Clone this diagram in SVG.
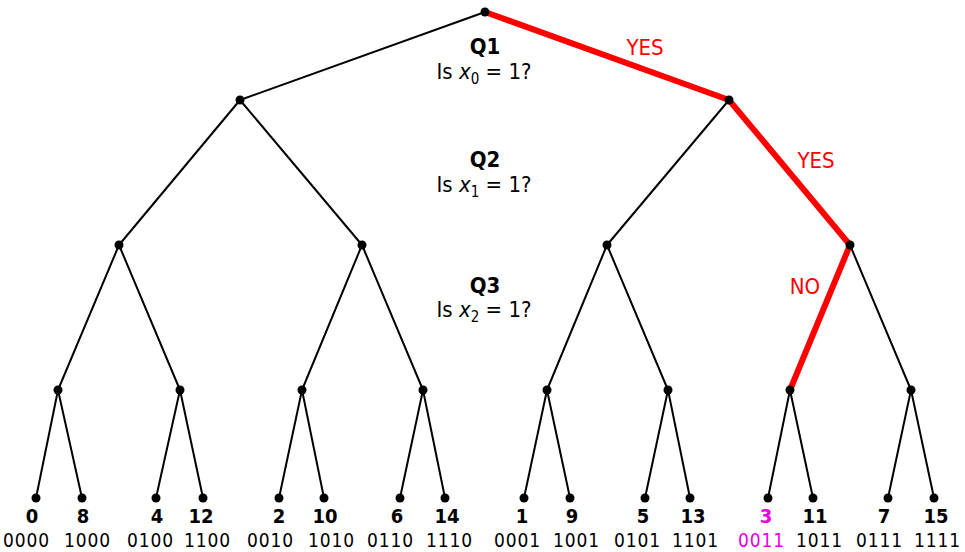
<svg xmlns="http://www.w3.org/2000/svg" width="965" height="552" viewBox="0 0 965 552">
<style>
.e{stroke:#000;stroke-width:2;fill:none}
.r{stroke:#ff0000;stroke-width:6;fill:none;stroke-linecap:round}
.d{fill:#000}
text{font-family:"DejaVu Sans Condensed","DejaVu Sans",sans-serif;text-anchor:middle;fill:#000}
.q{font-size:22px;font-weight:bold}
.t{font-size:22px}
.i{font-style:italic}
.s{font-size:15px}
.lab{font-size:22px;fill:#ff0000}
.n{font-size:20px;font-weight:bold}
.b{font-size:19px}
.m{fill:#e600e6}
</style>
<g id="edges">
<path class="e" d="M485,12L240,100M240,100L119,245M240,100L362,245M729,100L607,245M850,245L911,390"/>
<path class="e" d="M119,245L58,390M119,245L180,390M362,245L302,390M362,245L423,390M607,245L547,390M607,245L668,390"/>
<path class="e" d="M58,390L36,498M58,390L82,498M180,390L156,498M180,390L203,498M302,390L279,498M302,390L324,498M423,390L400,498M423,390L445,498"/>
<path class="e" d="M547,390L524,498M547,390L570,498M668,390L645,498M668,390L690,498M790,390L768,498M790,390L813,498M911,390L888,498M911,390L934,498"/>
<path class="r" d="M485,12L729,100L850,245L790,390"/>
</g>
<g id="nodes">
<g id="n-root"><circle class="d" cx="485" cy="12" r="4.5"/></g>
<g id="n-0"><circle class="d" cx="240" cy="100" r="4.5"/></g>
<g id="n-1"><circle class="d" cx="729" cy="100" r="4.5"/></g>
<g id="n-00"><circle class="d" cx="119" cy="245" r="4.5"/></g>
<g id="n-01"><circle class="d" cx="362" cy="245" r="4.5"/></g>
<g id="n-10"><circle class="d" cx="607" cy="245" r="4.5"/></g>
<g id="n-11"><circle class="d" cx="850" cy="245" r="4.5"/></g>
<g id="n-000"><circle class="d" cx="58" cy="390" r="4.5"/></g>
<g id="n-001"><circle class="d" cx="180" cy="390" r="4.5"/></g>
<g id="n-010"><circle class="d" cx="302" cy="390" r="4.5"/></g>
<g id="n-011"><circle class="d" cx="423" cy="390" r="4.5"/></g>
<g id="n-100"><circle class="d" cx="547" cy="390" r="4.5"/></g>
<g id="n-101"><circle class="d" cx="668" cy="390" r="4.5"/></g>
<g id="n-110"><circle class="d" cx="790" cy="390" r="4.5"/></g>
<g id="n-111"><circle class="d" cx="911" cy="390" r="4.5"/></g>
<g id="leaf-0"><circle class="d" cx="36" cy="498" r="4.5"/><text class="n" x="32" y="523">0</text><text class="b" x="26" y="547" textLength="46">0000</text></g>
<g id="leaf-8"><circle class="d" cx="82" cy="498" r="4.5"/><text class="n" x="83" y="523">8</text><text class="b" x="87" y="547" textLength="46">1000</text></g>
<g id="leaf-4"><circle class="d" cx="156" cy="498" r="4.5"/><text class="n" x="157" y="523">4</text><text class="b" x="150" y="547" textLength="46">0100</text></g>
<g id="leaf-12"><circle class="d" cx="203" cy="498" r="4.5"/><text class="n" x="201" y="523">12</text><text class="b" x="207" y="547" textLength="46">1100</text></g>
<g id="leaf-2"><circle class="d" cx="279" cy="498" r="4.5"/><text class="n" x="279" y="523">2</text><text class="b" x="270" y="547" textLength="46">0010</text></g>
<g id="leaf-10"><circle class="d" cx="324" cy="498" r="4.5"/><text class="n" x="325" y="523">10</text><text class="b" x="331" y="547" textLength="46">1010</text></g>
<g id="leaf-6"><circle class="d" cx="400" cy="498" r="4.5"/><text class="n" x="397" y="523">6</text><text class="b" x="390" y="547" textLength="46">0110</text></g>
<g id="leaf-14"><circle class="d" cx="445" cy="498" r="4.5"/><text class="n" x="447" y="523">14</text><text class="b" x="449" y="547" textLength="46">1110</text></g>
<g id="leaf-1"><circle class="d" cx="524" cy="498" r="4.5"/><text class="n" x="522" y="523">1</text><text class="b" x="517" y="547" textLength="46">0001</text></g>
<g id="leaf-9"><circle class="d" cx="570" cy="498" r="4.5"/><text class="n" x="572" y="523">9</text><text class="b" x="576" y="547" textLength="46">1001</text></g>
<g id="leaf-5"><circle class="d" cx="645" cy="498" r="4.5"/><text class="n" x="643" y="523">5</text><text class="b" x="637" y="547" textLength="46">0101</text></g>
<g id="leaf-13"><circle class="d" cx="690" cy="498" r="4.5"/><text class="n" x="693" y="523">13</text><text class="b" x="695" y="547" textLength="46">1101</text></g>
<g id="leaf-3"><circle class="d" cx="768" cy="498" r="4.5"/><text class="n m" x="766" y="523">3</text><text class="b m" x="761" y="547" textLength="46">0011</text></g>
<g id="leaf-11"><circle class="d" cx="813" cy="498" r="4.5"/><text class="n" x="815" y="523">11</text><text class="b" x="819" y="547" textLength="46">1011</text></g>
<g id="leaf-7"><circle class="d" cx="888" cy="498" r="4.5"/><text class="n" x="884" y="523">7</text><text class="b" x="879" y="547" textLength="46">0111</text></g>
<g id="leaf-15"><circle class="d" cx="934" cy="498" r="4.5"/><text class="n" x="936" y="523">15</text><text class="b" x="937" y="547" textLength="46">1111</text></g>
</g>
<g id="questions">
<text class="q" x="485" y="54">Q1</text>
<text class="t" x="484" y="79">Is <tspan class="i">x</tspan><tspan class="s" dy="5">0</tspan><tspan dy="-5"> = 1?</tspan></text>
<text class="q" x="485" y="167">Q2</text>
<text class="t" x="484" y="192">Is <tspan class="i">x</tspan><tspan class="s" dy="5">1</tspan><tspan dy="-5"> = 1?</tspan></text>
<text class="q" x="485" y="293">Q3</text>
<text class="t" x="484" y="317">Is <tspan class="i">x</tspan><tspan class="s" dy="5">2</tspan><tspan dy="-5"> = 1?</tspan></text>
</g>
<g id="labels">
<text class="lab" x="645" y="55">YES</text>
<text class="lab" x="816" y="168">YES</text>
<text class="lab" x="805" y="294">NO</text>
</g>
</svg>
